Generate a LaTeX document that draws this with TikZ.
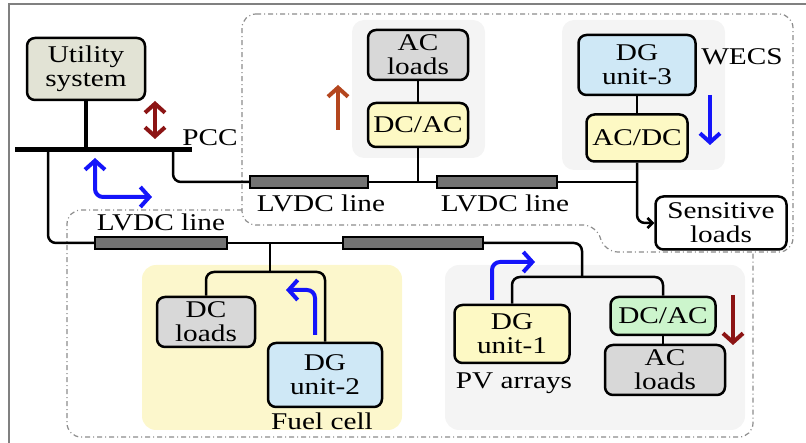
\documentclass[tikz,border=0pt]{standalone}
\usepackage{fontspec}
\setmainfont{Liberation Serif}[FakeStretch=1.22]
\usetikzlibrary{arrows.meta}
\definecolor{utilfill}{RGB}{226,227,213}
\definecolor{loadfill}{RGB}{216,216,216}
\definecolor{convfill}{RGB}{253,249,196}
\definecolor{dgfill}{RGB}{207,232,246}
\definecolor{greenfill}{RGB}{204,245,204}
\definecolor{cellfill}{RGB}{252,247,204}
\definecolor{zonefill}{RGB}{244,244,244}
\definecolor{flowblue}{RGB}{20,20,250}
\definecolor{flowred}{RGB}{140,20,20}
\definecolor{floworange}{RGB}{180,70,30}

\begin{document}
\begin{tikzpicture}[x=1pt, y=-1pt,
      every node/.style={font=\fontsize{24}{24}\selectfont},
      unitbox/.style={draw, line width=2.5pt, rounded corners=8pt, align=center, inner sep=0pt, fill=#1},
      unitbox/.default=white,
      wh/.style 2 args={minimum width=#1pt, minimum height=#2pt},
      lvdc/.style={draw, line width=1.5pt, fill=black!55, minimum height=12pt, inner sep=0pt, minimum width=#1pt},
      wire/.style={line width=2.5pt, rounded corners=8pt},
      zone/.style={draw=black!45, line width=1.2pt, dash pattern=on 5pt off 3pt on 1pt off 3pt, rounded corners=14pt},
      flow/.style={line width=4pt, draw=#1, rounded corners=8pt, -{Straight Barb[length=9pt,width=20pt]}},
      twoflow/.style={line width=4pt, draw=#1, rounded corners=8pt, {Straight Barb[length=9pt,width=20pt]}-{Straight Barb[length=9pt,width=20pt]}}]
    \useasboundingbox (0,0) rectangle (806,443);
    \draw[black!50, line width=1.5pt] (9,443) -- (9,4) -- (806,4);

    \fill[zonefill, rounded corners=12pt] (352,20) rectangle (485,158);
    \fill[zonefill, rounded corners=12pt] (562,20) rectangle (725,170);
    \fill[cellfill, rounded corners=14pt] (142,265) rectangle (402,430);
    \fill[zonefill, rounded corners=14pt] (445,265) rectangle (745,430);
    \draw[zone] (242,14) -- (793,14) -- (793,252) -- (604,252) -- (597,225) -- (242,225) -- cycle;
    \draw[zone] (242,210) -- (67,210) -- (67,437) -- (753,437) -- (753,252);

    \node[unitbox=utilfill, wh={118}{62}] (util) at (86,69) {Utility\\system};
    \node[unitbox=loadfill, wh={100}{50}] (acload1) at (418,55) {AC\\loads};
    \node[unitbox=convfill, wh={100}{44}] (dcac1) at (418,125) {DC/AC};
    \node[unitbox=dgfill, wh={117}{60}] (dg3) at (637,65) {DG\\unit-3};
    \node[unitbox=convfill, wh={101}{47}] (acdc) at (637,138) {AC/DC};
    \node[unitbox, wh={131}{53}] (sens) at (721,223) {Sensitive\\loads};
    \node[unitbox=loadfill, wh={98}{50}] (dcload) at (206,322) {DC\\loads};
    \node[unitbox=dgfill, wh={114}{64}] (dg2) at (325,375) {DG\\unit-2};
    \node[unitbox=convfill, wh={115}{58}] (dg1) at (512,334) {DG\\unit-1};
    \node[unitbox=greenfill, wh={105}{38}] (dcac2) at (663,316) {DC/AC};
    \node[unitbox=loadfill, wh={120}{50}] (acload2) at (665,370) {AC\\loads};

    \node[lvdc=118] (line1) at (309,182) {};
    \node[lvdc=120] (line2) at (497,182) {};
    \node[lvdc=132] (line3) at (161,243) {};
    \node[lvdc=140] (line4) at (413,243) {};
    \node (lab1) at (321,203) {LVDC line};
    \node (lab2) at (505,203) {LVDC line};
    \node (lab3) at (161,222) {LVDC line};
    \node (pcc) at (210,138) {PCC};
    \node (wecs) at (742,57) {WECS};
    \node (fuel) at (322,421) {Fuel cell};
    \node (pv) at (514,383) {PV arrays};

    \coordinate (bus1) at (173,150);
    \coordinate (bus2) at (48,150);
    \coordinate (j1) at (418,182);
    \coordinate (j2) at (637,182);
    \coordinate (j3) at (270,243);
    \coordinate (j4) at (582,243);

    \draw[line width=5pt] (15,150) -- (192,150);
    \draw[line width=4pt] (util.south) -- (util.south |- bus1);
    \draw[wire] (bus1) |- (line1.west);
    \draw[wire] (line1.east) -- (line2.west);
    \draw[wire] (dcac1.south) -- (j1);
    \draw[wire] (acload1.south) -- (dcac1.north);
    \draw[wire] (line2.east) -- (j2);
    \draw[wire] (dg3.south) -- (acdc.north);
    \draw[wire, -{Straight Barb[length=5pt,width=10pt]}] (acdc.south) |- (sens.west);
    \draw[wire] (bus2) |- (line3.west);
    \draw[wire] (line3.east) -- (line4.west);
    \draw[wire] (j3) -- (270,272);
    \draw[wire] (dcload.north) |- (325,272) -- (dg2.north);
    \draw[wire] (line4.east) -| (582,277);
    \draw[wire] (dg1.north) |- (663,277) -- (dcac2.north);
    \draw[wire] (dcac2.south) -- (dcac2.south |- acload2.north);

    \draw[twoflow=flowred] (155,101) -- (155,139);
    \draw[twoflow=flowblue] (95,158) -- (95,197) -- (152,197);
    \draw[flow=floworange] (338,130) -- (338,85);
    \draw[flow=flowblue] (710,95) -- (710,145);
    \draw[flow=flowblue] (315,335) -- (315,290) -- (286,290);
    \draw[flow=flowblue] (492,300) -- (492,262) -- (535,262);
    \draw[flow=flowred] (733,295) -- (733,345);
\end{tikzpicture}
\end{document}
